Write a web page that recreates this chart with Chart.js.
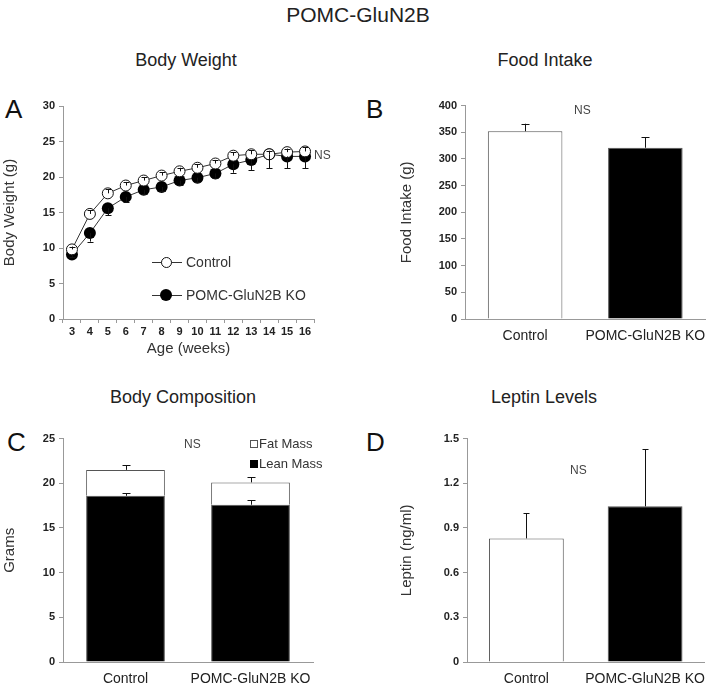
<!DOCTYPE html>
<html>
<head>
<meta charset="utf-8">
<script src="https://cdn.jsdelivr.net/npm/chart.js@4.4.0/dist/chart.umd.min.js"></script>
<style>
  body { margin: 0; background: #fff; font-family: 'Liberation Sans', Arial, sans-serif; }
  #page { position: relative; width: 716px; height: 686px; overflow: hidden; }
  canvas { position: absolute; }
  .txt { position: absolute; color: #222; white-space: nowrap; line-height: 1; }
  .title { font-size: 18px; text-align: center; }
  .letter { font-size: 26px; color: #111; }
  .ns { font-size: 12px; color: #444; }
  .leg { font-size: 14px; color: #333; }
  .legsm { font-size: 13px; color: #333; }
</style>
</head>
<body>
<div id="page">
  <div class="txt" style="left:0;width:716px;top:4px;font-size:21px;text-align:center">POMC-GluN2B</div>

  <div class="txt title" style="left:86px;width:200px;top:51px">Body Weight</div>
  <div class="txt title" style="left:445px;width:200px;top:51px">Food Intake</div>
  <div class="txt title" style="left:83px;width:200px;top:388px">Body Composition</div>
  <div class="txt title" style="left:444px;width:200px;top:388px">Leptin Levels</div>

  <div class="txt letter" style="left:5px;top:96px">A</div>
  <div class="txt letter" style="left:366px;top:96px">B</div>
  <div class="txt letter" style="left:7px;top:429px">C</div>
  <div class="txt letter" style="left:366px;top:429px">D</div>

  <canvas id="chartA" width="330" height="265" style="left:0;top:95px"></canvas>
  <canvas id="chartB" width="356" height="265" style="left:360px;top:95px"></canvas>
  <canvas id="chartC" width="330" height="258" style="left:0;top:428px"></canvas>
  <canvas id="chartD" width="356" height="258" style="left:360px;top:428px"></canvas>

  <!-- panel A annotations -->
  <div class="txt ns" style="left:314px;top:149px">NS</div>
  <div style="position:absolute;left:152px;top:262px;width:30px;height:1px;background:#333"></div>
  <div style="position:absolute;left:161px;top:257px;width:9px;height:9px;border:1px solid #111;border-radius:50%;background:#fff"></div>
  <div class="txt leg" style="left:186px;top:255px">Control</div>
  <div style="position:absolute;left:152px;top:295px;width:30px;height:1px;background:#333"></div>
  <div style="position:absolute;left:160px;top:289px;width:12px;height:12px;border-radius:50%;background:#000"></div>
  <div class="txt leg" style="left:186px;top:288px">POMC-GluN2B KO</div>

  <!-- panel B -->
  <div class="txt ns" style="left:574px;top:104px">NS</div>

  <!-- panel C -->
  <div class="txt ns" style="left:184px;top:438px">NS</div>
  <div style="position:absolute;left:250px;top:440px;width:6px;height:6px;border:1px solid #555;background:#fff"></div>
  <div class="txt legsm" style="left:259px;top:437px">Fat Mass</div>
  <div style="position:absolute;left:250px;top:460px;width:8px;height:8px;background:#000"></div>
  <div class="txt legsm" style="left:259px;top:457px">Lean Mass</div>

  <!-- panel D -->
  <div class="txt ns" style="left:570px;top:464px">NS</div>
</div>

<script>
// Body weight by age (weeks)
const weeks = ['3', '4', '5', '6', '7', '8', '9', '10', '11', '12', '13', '14', '15', '16'];
const bwControl = [9.8, 14.8, 17.7, 18.8, 19.5, 20.2, 20.8, 21.3, 21.9, 23.0, 23.2, 23.2, 23.5, 23.6];
const bwControlErr = [0.4, 0.5, 0.6, 0.5, 0.5, 0.5, 0.5, 0.5, 0.5, 0.5, 0.6, 0.5, 0.5, 0.6];
const bwKO = [9.1, 12.1, 15.6, 17.2, 18.2, 18.6, 19.5, 19.9, 20.5, 21.8, 22.4, 23.2, 22.9, 22.9];
const bwKOErr = [0.4, 1.2, 1.0, 0.7, 0.6, 0.6, 0.6, 0.6, 0.6, 1.2, 1.4, 2.0, 1.7, 1.7];

const groups = ['Control', 'POMC-GluN2B KO'];

// Food intake (g)
const foodIntake = [352, 321];
const foodIntakeErr = [14, 20];

// Body composition (g)
const leanMass = [18.6, 17.6];
const leanMassErr = [0.3, 0.5];
const fatMass = [2.9, 2.5];
const fatMassErr = [0.5, 0.6];

// Leptin (ng/ml)
const leptin = [0.83, 1.045];
const leptinErr = [0.17, 0.385];

const FONT = "'Liberation Sans', Arial, sans-serif";
Chart.defaults.font.family = FONT;
Chart.defaults.color = '#222';

// draws error bars from the top of each mark, using the y scale
const errorBarPlugin = {
  id: 'errorBars',
  afterDatasetsDraw(chart, args, opts) {
    const ctx = chart.ctx;
    const y = chart.scales.y;
    const cap = opts.cap || 4;
    chart.data.datasets.forEach((ds, i) => {
      if (!ds.errors) return;
      const meta = chart.getDatasetMeta(i);
      const dir = ds.errorDir === 'down' ? -1 : 1;
      meta.data.forEach((el, j) => {
        const e = ds.errors[j];
        if (!e) return;
        const v = y.getValueForPixel(el.y);
        const yEnd = y.getPixelForValue(v + dir * e);
        const x = Math.round(el.x) + 0.5;
        ctx.save();
        ctx.strokeStyle = '#111';
        ctx.lineWidth = 1;
        ctx.beginPath();
        ctx.moveTo(x, el.y);
        ctx.lineTo(x, yEnd);
        ctx.moveTo(x - cap, Math.round(yEnd) + 0.5);
        ctx.lineTo(x + cap, Math.round(yEnd) + 0.5);
        ctx.stroke();
        ctx.restore();
      });
    });
  }
};

function yAxis(max, step, width, title, titlePad, fmt) {
  return {
    min: 0, max: max,
    afterFit: s => { s.width = width; },
    ticks: {
      stepSize: step, padding: 4, color: '#222',
      font: { size: 11, weight: 'bold' },
      callback: fmt || (v => v)
    },
    grid: { drawOnChartArea: false, tickLength: 4, color: '#999' },
    border: { color: '#999' },
    title: { display: true, text: title, color: '#333', font: { size: 15 }, padding: { top: titlePad, bottom: 0 } }
  };
}

function barX(height, pad) {
  return {
    afterFit: s => { s.height = height; },
    ticks: { color: '#222', font: { size: 14 }, padding: pad, maxRotation: 0, minRotation: 0, autoSkip: false },
    grid: { drawOnChartArea: false, drawTicks: false, color: '#999' },
    border: { color: '#999' }
  };
}

const common = {
  responsive: false,
  animation: false,
  devicePixelRatio: 1,
  plugins: { legend: { display: false }, tooltip: { enabled: false } }
};

// A: body weight curves
new Chart(document.getElementById('chartA'), {
  type: 'line',
  data: {
    labels: weeks,
    datasets: [
      {
        label: 'Control', data: bwControl, errors: bwControlErr, errorDir: 'up',
        borderColor: '#333', borderWidth: 1, pointRadius: 5.5, pointBorderWidth: 1,
        pointBackgroundColor: '#fff', pointBorderColor: '#111', tension: 0
      },
      {
        label: 'POMC-GluN2B KO', data: bwKO, errors: bwKOErr, errorDir: 'down',
        borderColor: '#333', borderWidth: 1, pointRadius: 6, pointBorderWidth: 0,
        pointBackgroundColor: '#000', pointBorderColor: '#000', tension: 0
      }
    ]
  },
  options: {
    ...common,
    layout: { padding: { top: 11, right: 16, left: 0, bottom: 0 } },
    scales: {
      x: {
        offset: true,
        afterFit: s => { s.height = 41; },
        ticks: { color: '#222', font: { size: 11, weight: 'bold' }, padding: 2, maxRotation: 0, autoSkip: false },
        grid: { offset: true, drawOnChartArea: false, tickLength: 4, color: '#999' },
        border: { color: '#999' },
        title: { display: true, text: 'Age (weeks)', color: '#333', font: { size: 15 }, padding: { top: 0, bottom: 2 } }
      },
      y: yAxis(30, 5, 63, 'Body Weight (g)', 1)
    },
    plugins: { ...common.plugins, errorBars: { cap: 3 } }
  },
  plugins: [errorBarPlugin]
});

// B: food intake
new Chart(document.getElementById('chartB'), {
  type: 'bar',
  data: {
    labels: groups,
    datasets: [{
      data: foodIntake, errors: foodIntakeErr,
      backgroundColor: ['#fff', '#000'], borderColor: '#555', borderWidth: 1,
      barPercentage: 0.62, categoryPercentage: 1
    }]
  },
  options: {
    ...common,
    layout: { padding: { top: 10, right: 7, left: 0, bottom: 0 } },
    scales: {
      x: barX(41, 9),
      y: yAxis(400, 50, 105, 'Food Intake (g)', 38)
    },
    plugins: { ...common.plugins, errorBars: { cap: 4 } }
  },
  plugins: [errorBarPlugin]
});

// C: body composition (stacked)
new Chart(document.getElementById('chartC'), {
  type: 'bar',
  data: {
    labels: groups,
    datasets: [
      {
        label: 'Lean Mass', data: leanMass, errors: leanMassErr,
        backgroundColor: '#000', borderColor: '#555', borderWidth: 1,
        barPercentage: 0.63, categoryPercentage: 1
      },
      {
        label: 'Fat Mass', data: fatMass, errors: fatMassErr,
        backgroundColor: '#fff', borderColor: '#555', borderWidth: 1,
        barPercentage: 0.63, categoryPercentage: 1
      }
    ]
  },
  options: {
    ...common,
    layout: { padding: { top: 10, right: 17, left: 0, bottom: 0 } },
    scales: {
      x: { ...barX(24, 9), stacked: true },
      y: { ...yAxis(25, 5, 63, 'Grams', 1), stacked: true }
    },
    plugins: { ...common.plugins, errorBars: { cap: 4 } }
  },
  plugins: [errorBarPlugin]
});

// D: leptin
new Chart(document.getElementById('chartD'), {
  type: 'bar',
  data: {
    labels: groups,
    datasets: [{
      data: leptin, errors: leptinErr,
      backgroundColor: ['#fff', '#000'], borderColor: '#555', borderWidth: 1,
      barPercentage: 0.63, categoryPercentage: 1
    }]
  },
  options: {
    ...common,
    layout: { padding: { top: 10, right: 8, left: 0, bottom: 0 } },
    scales: {
      x: barX(24, 9),
      y: yAxis(1.5, 0.3, 107, 'Leptin (ng/ml)', 38, v => (v === 0 ? '0' : v.toFixed(1)))
    },
    plugins: { ...common.plugins, errorBars: { cap: 3 } }
  },
  plugins: [errorBarPlugin]
});
</script>
</body>
</html>
